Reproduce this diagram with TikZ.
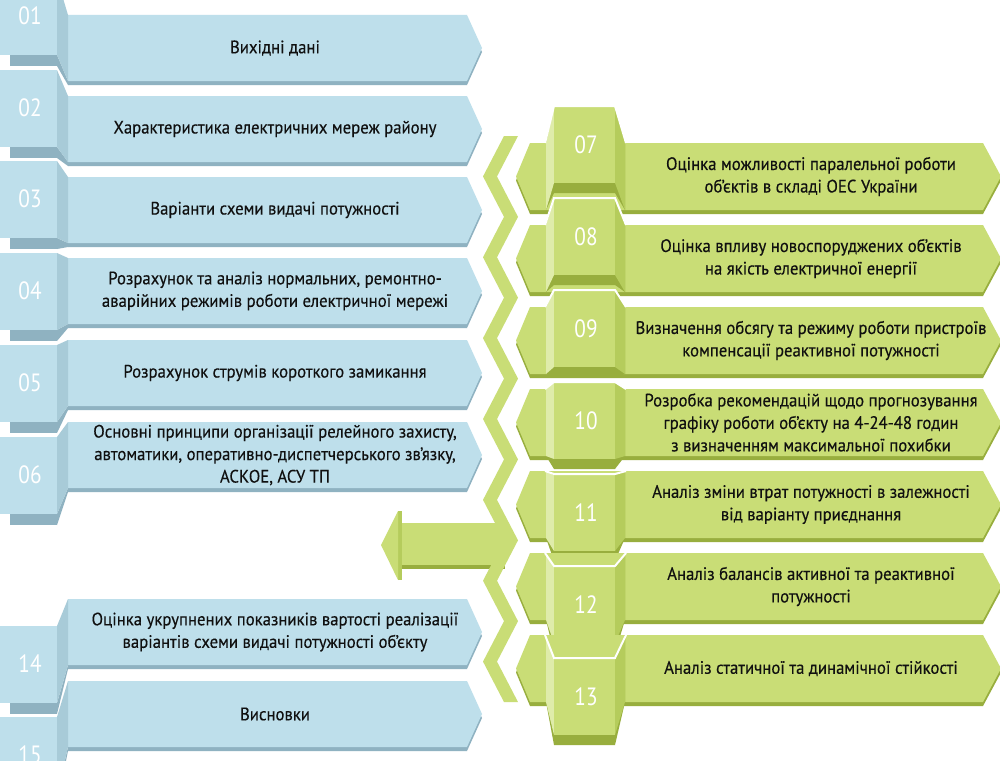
\documentclass[tikz,border=0pt]{standalone}
\usepackage{fontspec}
\setmainfont{PT Sans}[FakeStretch=0.93, FakeBold=0.3]
\newfontfamily\numfont{PT Sans}[FakeStretch=0.85]
\definecolor{bface}{HTML}{BEDFEB}
\definecolor{bbev}{HTML}{A8CBD8}
\definecolor{bsh}{HTML}{8FB2C1}
\definecolor{gface}{HTML}{C9DD76}
\definecolor{glight}{HTML}{DFECAA}
\definecolor{gside}{HTML}{B5CC5C}
\definecolor{gdark}{HTML}{98AE3E}
\definecolor{txt}{HTML}{101010}
\tikzset{
  btxt/.style={text=txt, align=center, inner sep=0pt, font=\fontsize{18}{22.5}\selectfont},
  bnum/.style={text=white, inner sep=0pt, font=\numfont\fontsize{25}{25}\selectfont},
}
\newcommand{\bitem}[4]{%
 \pgfmathsetmacro{\qTT}{#1}\pgfmathsetmacro{\qTB}{#1+77}%
 \pgfmathsetmacro{\qBT}{#2}\pgfmathsetmacro{\qBB}{#2+66}\pgfmathsetmacro{\qBM}{#2+33}%
 \fill[bsh] (68,\qBT+4) -- (467,\qBT+4) -- (482,\qBM+4) -- (467,\qBB+4) -- (68,\qBB+4) -- cycle;
 \fill[bface] (68,\qBT) -- (467,\qBT) -- (482,\qBM) -- (467,\qBB) -- (68,\qBB) -- cycle;
 \fill[bsh] (10,\qTB) rectangle (57,\qTB+11);
 \fill[bsh] (57,\qTB) -- (68,\qBB) -- (68,\qBB+4) -- (57,\qTB+11) -- cycle;
 \fill[bbev] (57,\qTT) -- (68,\qBT) -- (68,\qBB) -- (57,\qTB) -- cycle;
 \fill[bface] (-5,\qTT) rectangle (57,\qTB);
 \node[bnum] (n#3) at (30,\qTT+38) {#3};
 \node[btxt] (t#3) at (275,\qBM) {#4};
}
\newcommand{\gitem}[4]{%
 \pgfmathsetmacro{\qTT}{#1}\pgfmathsetmacro{\qFB}{#1+76}%
 \pgfmathsetmacro{\qBT}{#2}\pgfmathsetmacro{\qBB}{#2+67}\pgfmathsetmacro{\qBM}{#2+33.5}%
 \fill[gdark] (530,\qBT+4) -- (983,\qBT+4) -- (1001,\qBM+4) -- (983,\qBB+4) -- (530,\qBB+4) -- (516,\qBM+4) -- cycle;
 \fill[gface] (530,\qBT) -- (983,\qBT) -- (1001,\qBM) -- (983,\qBB) -- (530,\qBB) -- (516,\qBM) -- cycle;
 \fill[gdark] (546,\qBT) -- (554,\qTT) -- (615,\qTT) -- (625,\qBT) -- (625,\qBB) -- (615,\qFB+10) -- (554,\qFB+10) -- (546,\qBB) -- cycle;
 \fill[glight] (546,\qBT) -- (554,\qTT) -- (554,\qFB) -- (546,\qBB) -- cycle;
 \fill[gside] (615,\qTT) -- (625,\qBT) -- (625,\qBB) -- (615,\qFB) -- cycle;
 \fill[gface] (554,\qTT) rectangle (615,\qFB);
 \draw[white, line width=2pt, line join=miter] (545,\qBT) -- (554,\qTT-1) -- (615,\qTT-1) -- (626,\qBT);
 \node[bnum] (n#3) at (586,\qTT+38) {#3};
 \node[btxt] (t#3) at (811,\qBM) {#4};
}
\begin{document}
\begin{tikzpicture}[x=1pt, y=-1pt]
\useasboundingbox (0,0) rectangle (1000,760);
\fill[white] (0,0) rectangle (1000,760);
\clip (0,0) rectangle (1000,760);
% blue column
\bitem{-22}{15}{01}{Вихідні дані}
\bitem{70}{96}{02}{Характеристика електричних мереж району}
\bitem{161}{177}{03}{Варіанти схеми видачі потужності}
\bitem{253}{258}{04}{Розрахунок та аналіз нормальних, ремонтно-\\аварійних режимів роботи електричної мережі}
\bitem{345}{340}{05}{Розрахунок струмів короткого замикання}
\bitem{437}{422}{06}{Основні принципи організації релейного захисту,\\автоматики, оперативно-диспетчерського зв’язку,\\АСКОЕ, АСУ ТП}
\bitem{626}{599}{14}{Оцінка укрупнених показників вартості реалізації\\варіантів схеми видачі потужності об’єкту}
\bitem{717}{681}{15}{Висновки}
% big arrow
\fill[gside] (398,511) rectangle (402,580);
\fill[gdark] (402,565) rectangle (505,569);
\fill[gface] (381,545) -- (398,511) -- (398,580) -- cycle;
\fill[gface] (402,523) rectangle (505,565);
% zigzag
\fill[gface] (504,136)
  \foreach \k in {1,...,14}{ -- ({ifthenelse(mod(\k,2)==0,504,483)},{136+40.43*\k}) }
  -- (518,{136+40.43*14})
  \foreach \k in {13,12,...,0}{ -- ({ifthenelse(mod(\k,2)==0,518,497)},{136+40.43*\k}) }
  -- cycle;
% green column
\gitem{107}{143}{07}{Оцінка можливості паралельної роботи\\об’єктів в складі ОЕС України}
\gitem{199}{225}{08}{Оцінка впливу новоспоруджених об’єктів\\на якість електричної енергії}
\gitem{291}{307}{09}{Визначення обсягу та режиму роботи пристроїв\\компенсації реактивної потужності}
\gitem{383}{389}{10}{Розробка рекомендацій щодо прогнозування\\графіку роботи об’єкту на 4-24-48 годин\\з визначенням максимальної  похибки}
\gitem{475}{471}{11}{Аналіз зміни втрат потужності в залежності\\від варіанту приєднання}
\gitem{567}{553}{12}{Аналіз балансів активної та реактивної\\потужності}
\gitem{659}{635}{13}{Аналіз статичної та  динамічної стійкості}
\end{tikzpicture}
\end{document}
